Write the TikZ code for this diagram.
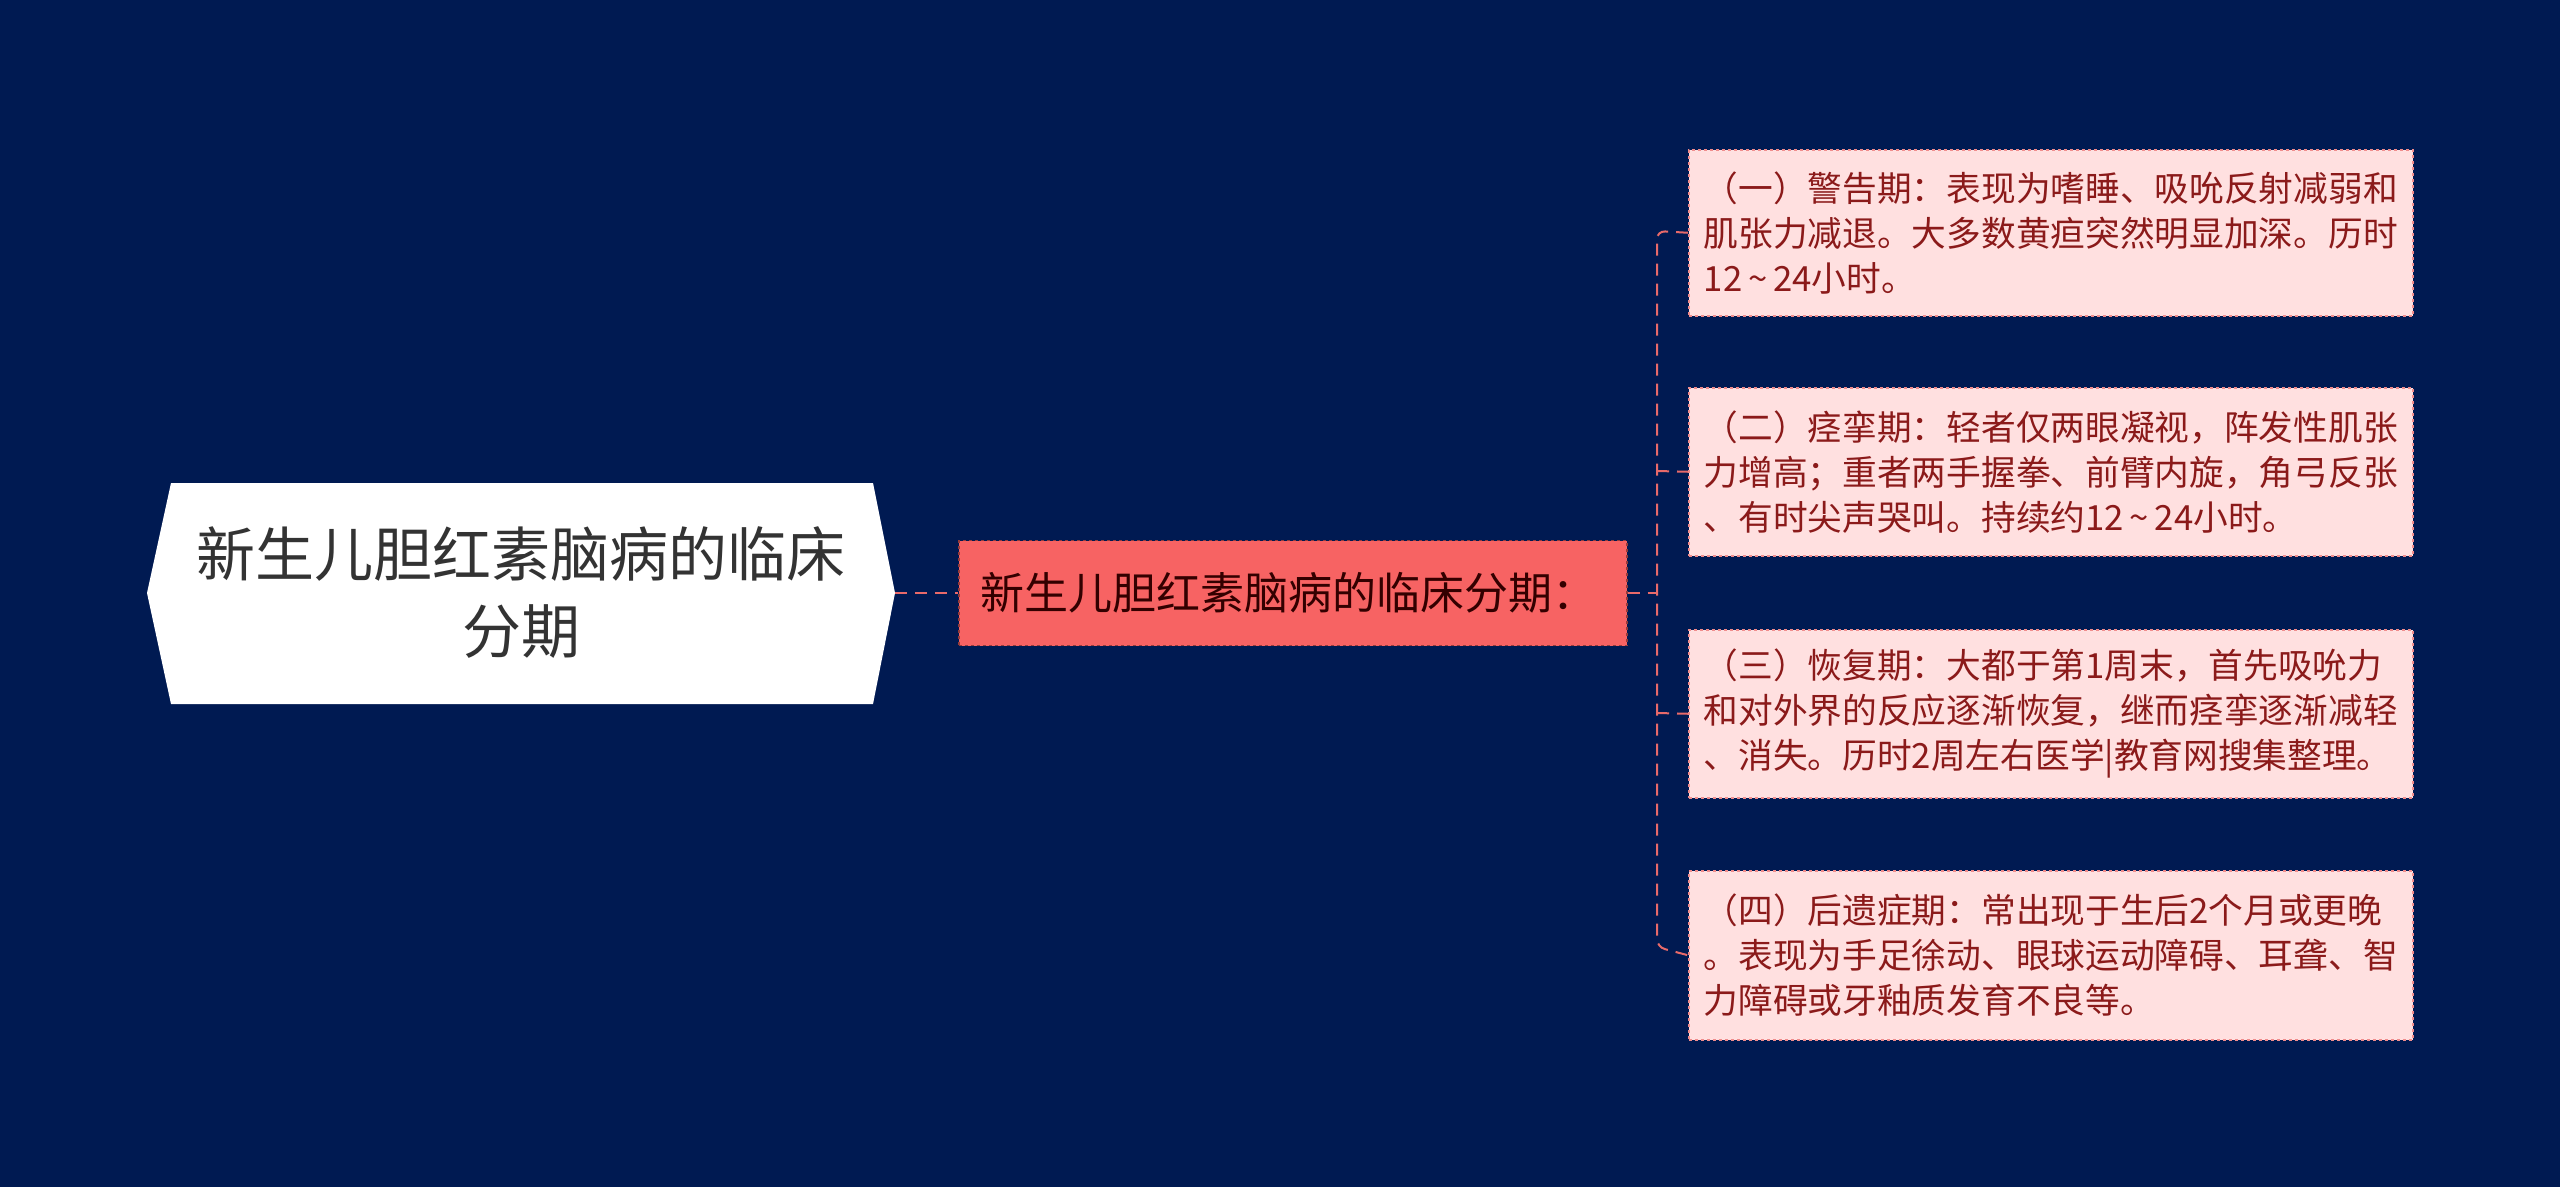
\documentclass[tikz,border=0pt]{standalone}
\usepackage{fontspec}
\newfontfamily\cjk{Noto Sans CJK SC}
\newcommand{\tl}{\,\textasciitilde\,}
\begin{document}
\begin{tikzpicture}[x=1pt,y=-1pt,
  leaf/.style={draw=leafline,dashed,fill=leaffill,line width=1.5pt,minimum width=724pt,minimum height=166pt,inner sep=0pt,text=leaftext,anchor=north west,
    font=\cjk\fontsize{34.7}{45}\selectfont,align=left,text width=694pt},
  link/.style={draw=linkc,dashed,line width=2pt,dash pattern=on 12pt off 8pt}]
\definecolor{bg}{HTML}{001A52}
\definecolor{leaffill}{HTML}{FFE0E0}
\definecolor{leafline}{HTML}{F08C8C}
\definecolor{leaftext}{HTML}{8B1A1A}
\definecolor{midfill}{HTML}{F76363}
\definecolor{linkc}{HTML}{E86A6A}
\fill[bg] (0,0) rectangle (2560,1187);
\useasboundingbox (0,0) rectangle (2560,1187);
% root
\fill[white] (147,593) -- (171,483) -- (873,483) -- (895,593) -- (873,704) -- (171,704) -- cycle;
\node[font=\cjk\fontsize{59}{77}\selectfont,text=black!80,align=center] (root) at (521,593) {新生儿胆红素脑病的临床\\分期};
\coordinate (rootE) at (895,593);
% middle
\node[draw=midfill!60!black,dashed,fill=midfill,line width=1.5pt,minimum width=668pt,minimum height=105pt,inner sep=0pt,
  font=\cjk\fontsize{44}{50}\selectfont,text=black!80!red,anchor=west] (mid) at (958,593) {\hspace*{-8pt}新生儿胆红素脑病的临床分期：};
\draw[link] (rootE) -- (mid.west);
% leaves
\node[leaf] (a) at (1688,149) {（一）警告期：表现为嗜睡、吸吮反射减弱和\\肌张力减退。大多数黄疸突然明显加深。历时\\12\tl24小时。};
\node[leaf,minimum height=168pt] (b) at (1688,387) {（二）痉挛期：轻者仅两眼凝视，阵发性肌张\\力增高；重者两手握拳、前臂内旋，角弓反张\\、有时尖声哭叫。持续约12\tl24小时。};
\node[leaf,minimum height=168pt] (c) at (1688,629) {（三）恢复期：大都于第1周末，首先吸吮力\\和对外界的反应逐渐恢复，继而痉挛逐渐减轻\\、消失。历时2周左右医学|教育网搜集整理。};
\node[leaf,minimum height=169pt] (d) at (1688,870) {（四）后遗症期：常出现于生后2个月或更晚\\。表现为手足徐动、眼球运动障碍、耳聋、智\\力障碍或牙釉质发育不良等。};
\coordinate (j) at (1657,593);
\draw[link] (mid.east) -- (j);
\draw[link,rounded corners=8pt] (a.west) -- (1657,231) -- (1657,947) -- (d.west);
\draw[link] (1657,471) -- (b.west);
\draw[link] (1657,713) -- (c.west);
\end{tikzpicture}
\end{document}
